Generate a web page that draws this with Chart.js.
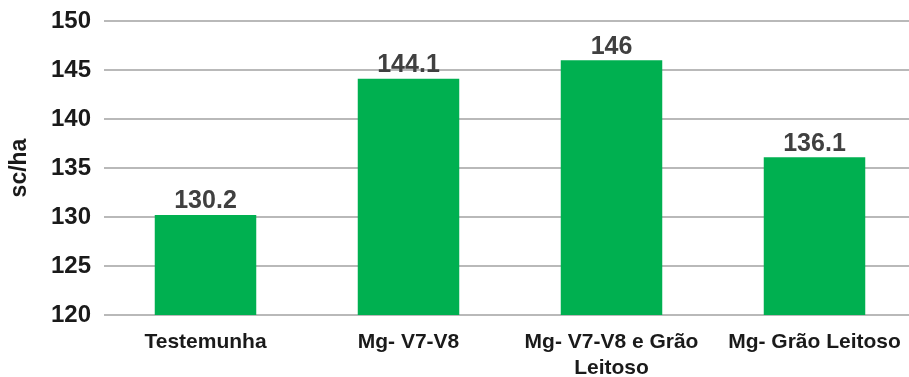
<!DOCTYPE html>
<html>
<head>
<meta charset="utf-8">
<script src="https://cdn.jsdelivr.net/npm/chart.js@4/dist/chart.umd.min.js"></script>
<style>
html,body{margin:0;padding:0;background:#fff;overflow:hidden;}
#wrap{position:relative;width:916px;height:377px;}
</style>
</head>
<body>
<div id="wrap"><canvas id="c"></canvas></div>
<script>
const categories = [
  "Testemunha",
  "Mg- V7-V8",
  ["Mg- V7-V8 e Grão", "Leitoso"],
  "Mg- Grão Leitoso"
];
const values = [130.2, 144.1, 146, 136.1];
const valueLabels = ["130.2", "144.1", "146", "136.1"];
const yTicks = [120, 125, 130, 135, 140, 145, 150];
const yTitle = "sc/ha";

const FONT = "'Liberation Sans', Arial, sans-serif";

const valueLabelPlugin = {
  id: 'valueLabels',
  afterDatasetsDraw(chart) {
    const ctx = chart.ctx;
    const meta = chart.getDatasetMeta(0);
    ctx.save();
    ctx.font = "bold 25px " + FONT;
    ctx.fillStyle = "#404040";
    ctx.textAlign = "center";
    ctx.textBaseline = "bottom";
    meta.data.forEach((bar, i) => {
      ctx.fillText(valueLabels[i], bar.x, bar.y - 1);
    });
    ctx.restore();
  }
};

new Chart(document.getElementById('c'), {
  type: 'bar',
  data: {
    labels: categories,
    datasets: [{
      data: values,
      backgroundColor: '#00B050',
      borderWidth: 0,
      barPercentage: 0.5,
      categoryPercentage: 1.0
    }]
  },
  options: {
    responsive: true,
    maintainAspectRatio: false,
    animation: false,
    devicePixelRatio: 1,
    layout: { padding: { top: 21, right: 0, bottom: 0, left: 0 } },
    plugins: { legend: { display: false }, tooltip: { enabled: false } },
    scales: {
      x: {
        grid: { display: false, drawTicks: false },
        border: { display: false },
        ticks: {
          color: '#1a1a1a',
          font: { family: FONT, size: 21, weight: 'bold' },
          padding: 15,
          maxRotation: 0,
          autoSkip: false
        },
        afterFit(s) { s.height = 62; }
      },
      y: {
        min: 120,
        max: 150,
        afterBuildTicks(s) { s.ticks = yTicks.map(v => ({ value: v })); },
        grid: { color: '#b9b9b9', lineWidth: 2, drawTicks: false },
        border: { display: false },
        ticks: {
          color: '#1a1a1a',
          font: { family: FONT, size: 24, weight: 'bold', lineHeight: 0.5 },
          padding: 13
        },
        title: {
          display: true,
          text: yTitle,
          color: '#1a1a1a',
          font: { family: FONT, size: 23, weight: 'bold' },
          padding: { top: 6, bottom: 0 }
        },
        afterFit(s) { s.width = 104; }
      }
    }
  },
  plugins: [valueLabelPlugin]
});
</script>
</body>
</html>
